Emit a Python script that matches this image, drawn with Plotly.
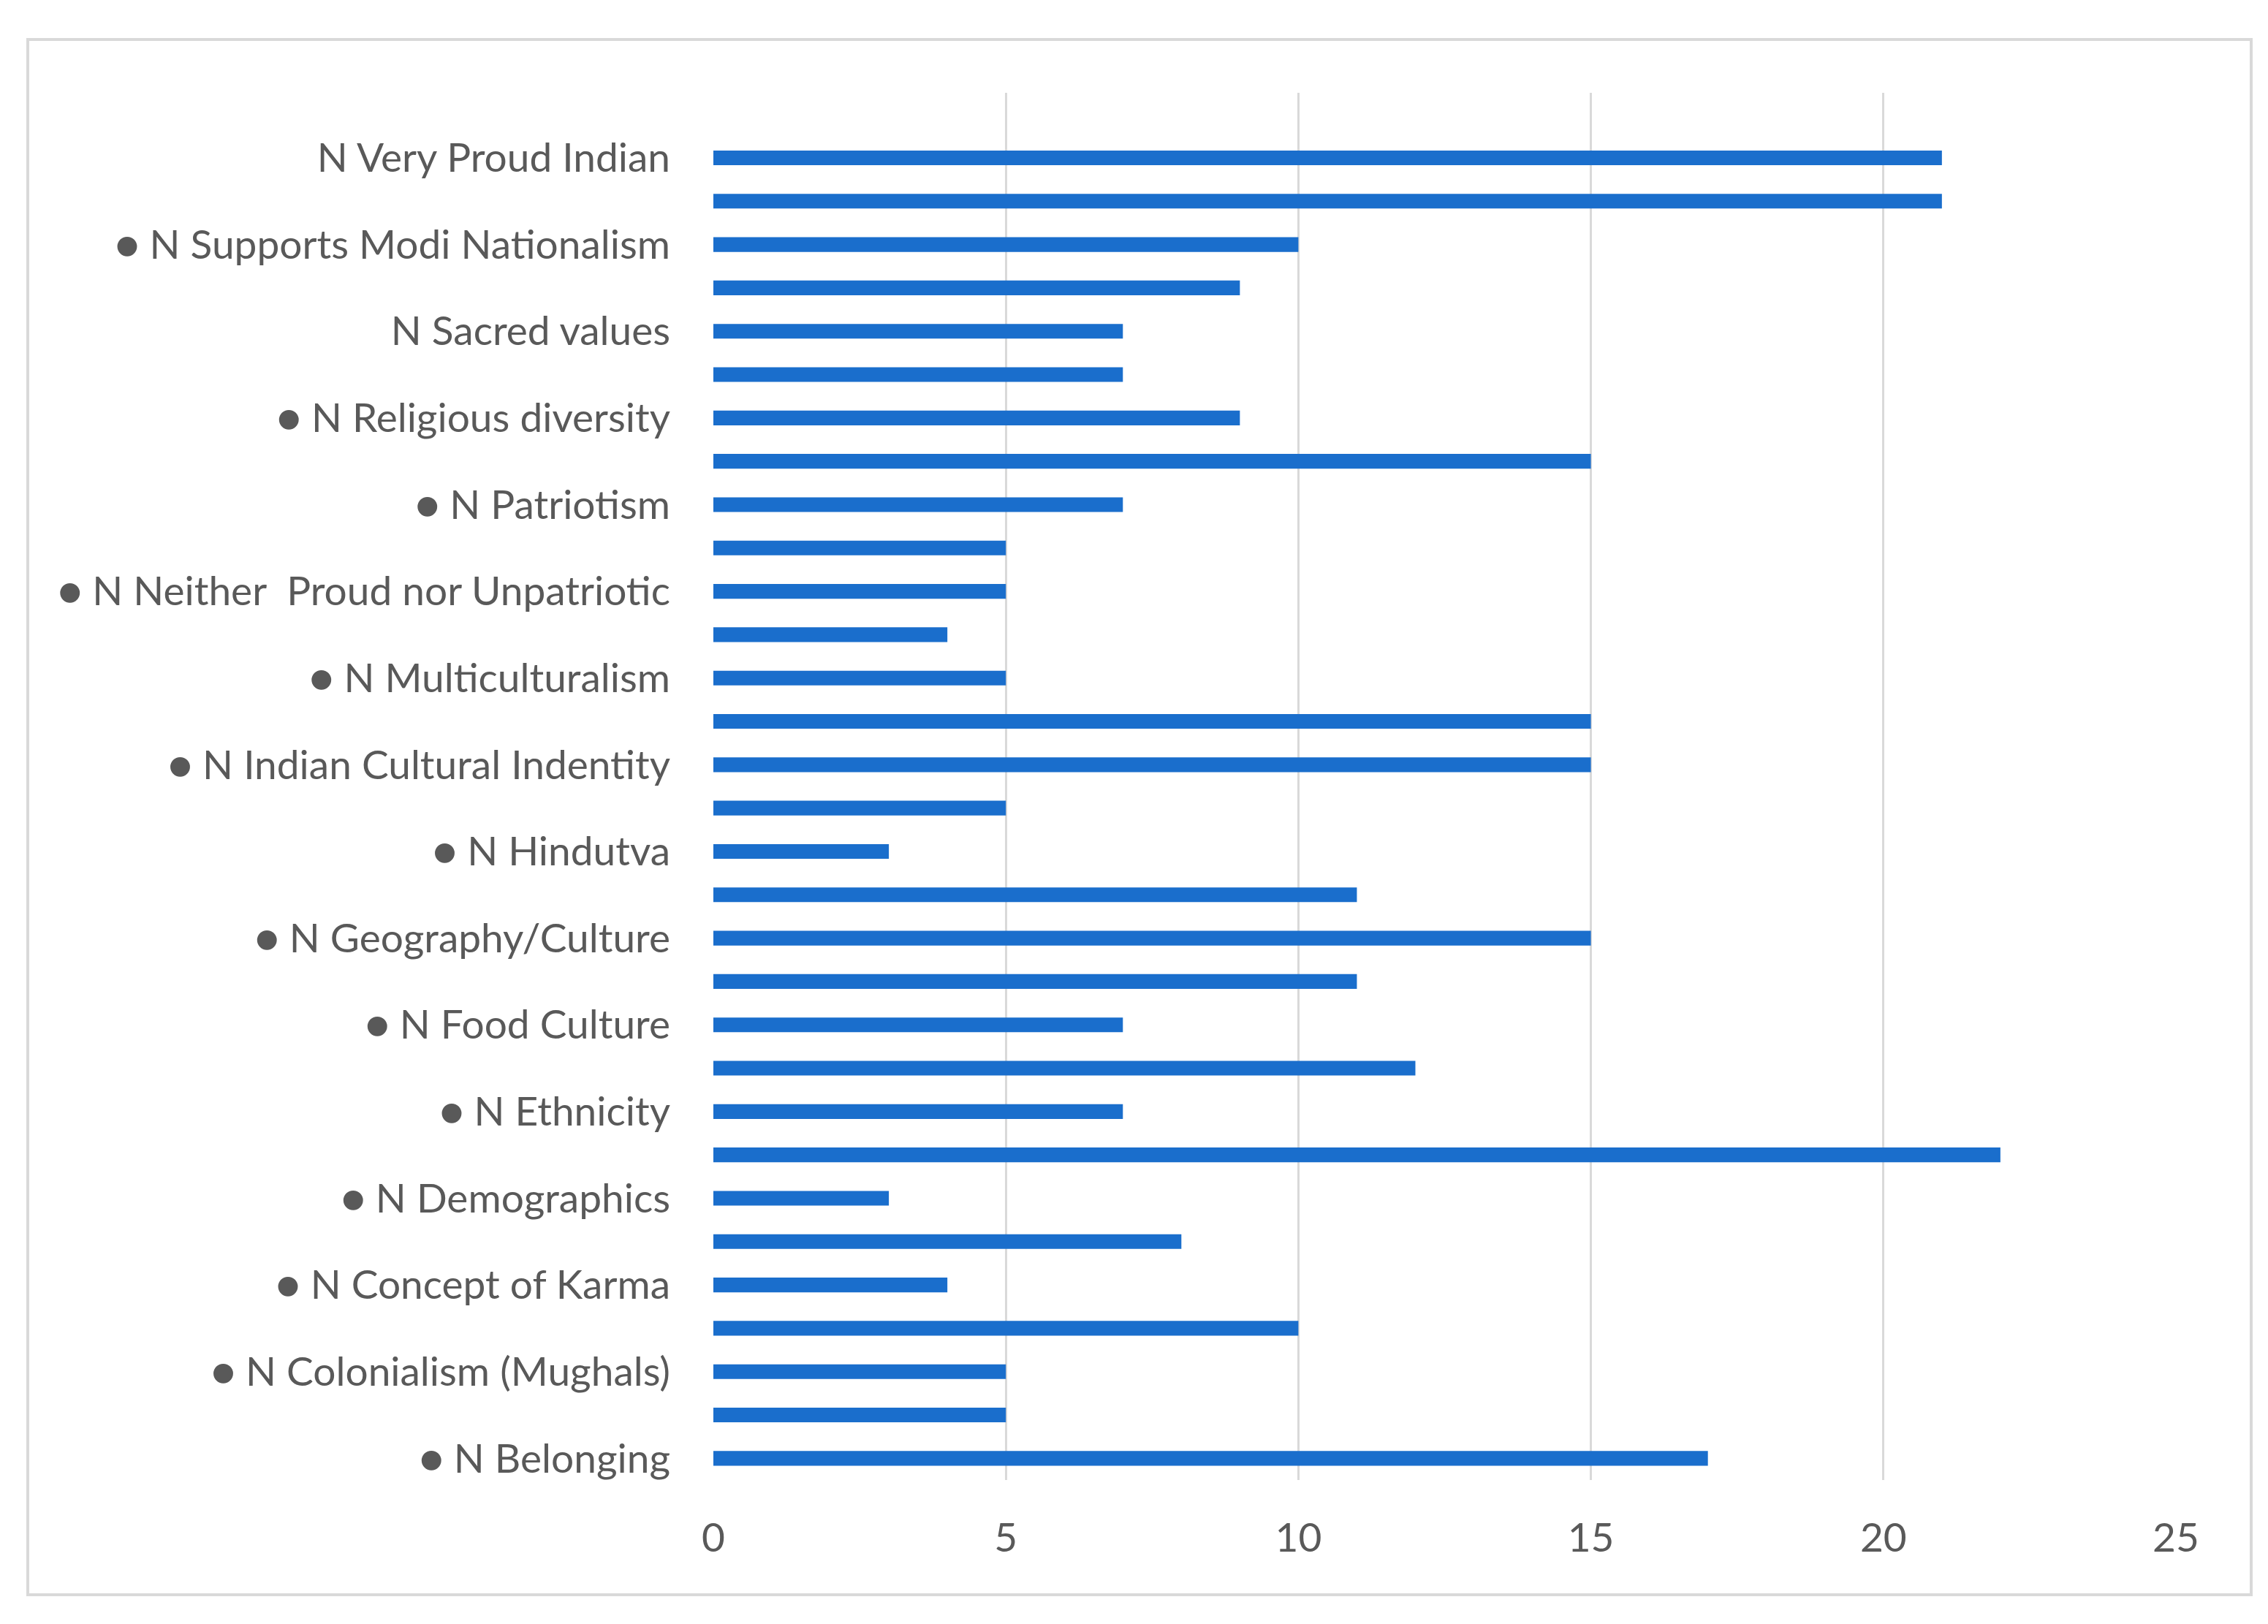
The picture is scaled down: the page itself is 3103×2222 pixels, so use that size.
import plotly.graph_objects as go

# Categories bottom -> top (alphabetical, as in the source chart); only every other label is shown
labels = [
    "● N Belonging", "", "● N Colonialism (Mughals)", "", "● N Concept of Karma", "",
    "● N Demographics", "", "● N Ethnicity", "", "● N Food Culture", "",
    "● N Geography/Culture", "", "● N Hindutva", "", "● N Indian Cultural Indentity", "",
    "● N Multiculturalism", "", "● N Neither  Proud nor Unpatriotic", "", "● N Patriotism", "",
    "● N Religious diversity", "", "N Sacred values", "", "● N Supports Modi Nationalism", "",
    "N Very Proud Indian", "",
]
values = [17, 5, 5, 10, 4, 8, 3, 22, 7, 12, 7, 11, 15, 11, 3, 5,
          15, 15, 5, 4, 5, 5, 7, 15, 9, 7, 7, 9, 10, 21, 21, None]
x_ticks = [0, 5, 10, 15, 20, 25]

positions = list(range(len(values)))
tick_pos = [p for p, l in zip(positions, labels) if l]
tick_txt = [l for l in labels if l]

W, H = 3087, 2206
L, R, T, B = 968, 118, 119, 189
pw, ph = W - L - R, H - T - B

fig = go.Figure()
fig.add_trace(go.Bar(
    x=values, y=positions, orientation="h",
    width=0.34,
    marker=dict(color="#1A6ECC", line=dict(width=0)),
    hoverinfo="x",
))

font_family = "Lato, Open Sans, sans-serif"
fig.update_layout(
    width=W, height=H,
    margin=dict(l=L, r=R, t=T, b=B),
    paper_bgcolor="white", plot_bgcolor="white",
    showlegend=False,
    font=dict(family=font_family, size=55, color="#595959"),
    xaxis=dict(
        range=[0, 25], tickvals=x_ticks,
        showgrid=True, gridcolor="#D9D9D9", gridwidth=3,
        zeroline=False, showline=False,
        ticks="", ticklabelstandoff=42,
        tickfont=dict(size=55, color="#595959"),
    ),
    yaxis=dict(
        range=[-0.5, len(values) - 0.5],
        tickvals=tick_pos, ticktext=tick_txt,
        showgrid=False, zeroline=False, showline=False,
        ticks="", ticklabelstandoff=58,
        tickfont=dict(size=55, color="#595959"),
    ),
    shapes=[dict(
        type="rect", xref="paper", yref="paper",
        x0=(30 - L) / pw, x1=(3072 - L) / pw,
        y0=(H - B - 2174) / ph, y1=(H - B - 46) / ph,
        line=dict(color="#D9D9D9", width=4), fillcolor="rgba(0,0,0,0)",
        layer="below",
    )],
)

fig.write_html("out.html")
